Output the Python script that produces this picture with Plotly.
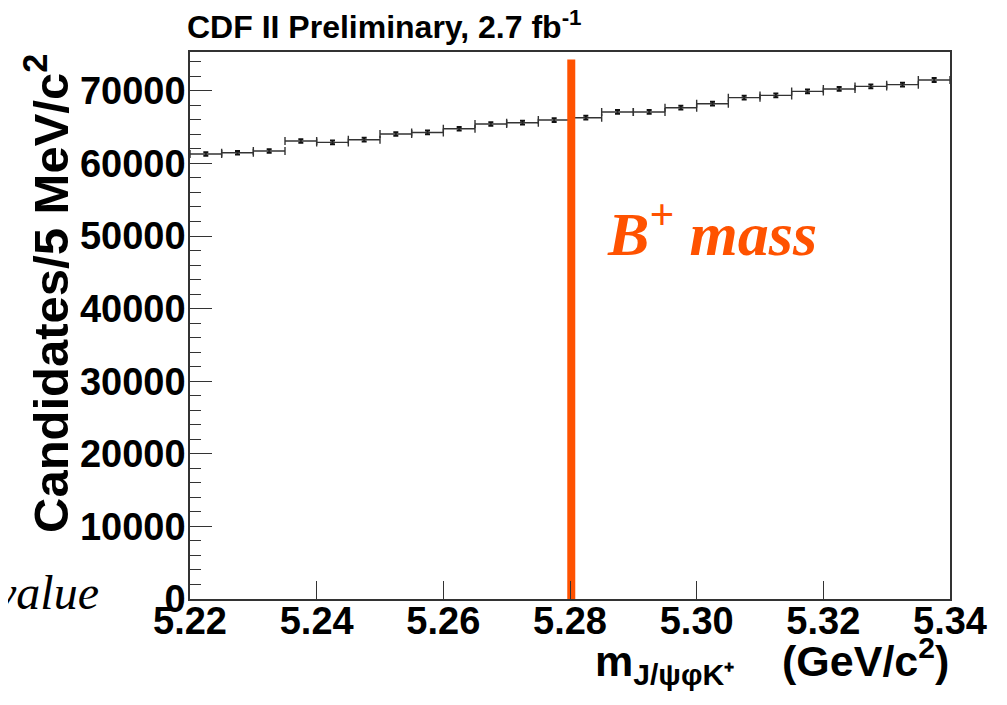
import plotly.graph_objects as go

# ---- data ----
bin_centers = [5.2225, 5.2275, 5.2325, 5.2375, 5.2425, 5.2475, 5.2525, 5.2575,
               5.2625, 5.2675, 5.2725, 5.2775, 5.2825, 5.2875, 5.2925, 5.2975,
               5.3025, 5.3075, 5.3125, 5.3175, 5.3225, 5.3275, 5.3325, 5.3375]
bin_half_width = 0.0025
counts = [61300, 61480, 61710, 63090, 62900, 63270, 64050, 64270,
          64780, 65430, 65610, 65980, 66300, 67090, 67090, 67680,
          68230, 69060, 69370, 69920, 70260, 70610, 70850, 71500]
count_errors = [248, 248, 248, 251, 251, 252, 253, 254,
                255, 256, 256, 257, 257, 259, 259, 260,
                261, 263, 263, 264, 265, 266, 266, 267]
b_mass = 5.2802
b_line_top = 74300
x_ticks = [5.22, 5.24, 5.26, 5.28, 5.30, 5.32, 5.34]
x_range = [5.22, 5.34]
y_range = [0, 75350]

# ---- layout geometry (screen pixels; page body adds an 8px offset) ----
OFF = 8
W, H = 1007 - 2 * OFF, 705 - 2 * OFF
PL, PR, PT, PB = 190, 950, 52, 599          # plot area in screen pixels
L, T = PL - OFF, PT - OFF
R = W - (PR - OFF)
B = H - (PB - OFF)
PW, PH = PR - PL, PB - PT


def px_x(px):
    return (px - PL) / PW


def px_y(py):
    return (PB - py) / PH


AX_COLOR = "#333333"
SANS = "Liberation Sans, Arial, sans-serif"
SERIF = "Liberation Serif, Times New Roman, serif"

fig = go.Figure()

fig.add_trace(go.Scatter(
    x=bin_centers, y=counts, mode="markers",
    marker=dict(size=1, color="#222222"),
    error_x=dict(type="data", array=[bin_half_width] * len(bin_centers),
                 symmetric=True, color="#333333", thickness=1.4, width=4),
    error_y=dict(type="data", array=count_errors, symmetric=True,
                 color="#111111", thickness=2, width=2.5),
    showlegend=False, hoverinfo="skip",
))

fig.add_trace(go.Scatter(
    x=[b_mass, b_mass], y=[0, b_line_top], mode="lines",
    line=dict(color="#FF5200", width=8),
    showlegend=False, hoverinfo="skip",
))

fig.update_layout(
    width=W, height=H,
    margin=dict(l=L, r=R, t=T, b=B, pad=0),
    paper_bgcolor="white", plot_bgcolor="white",
    xaxis=dict(
        range=x_range, tickvals=x_ticks, tickformat=".2f",
        ticks="inside", ticklen=18, tickwidth=1.2, tickcolor=AX_COLOR,
        showline=True, linecolor=AX_COLOR, linewidth=1.5, mirror=True,
        showgrid=False, zeroline=False, ticklabelstandoff=-12,
        tickfont=dict(family=SANS, size=38, color="black", weight="bold"),
    ),
    yaxis=dict(
        range=y_range, dtick=10000, tick0=0, tickformat="d",
        ticks="inside", ticklen=22, tickwidth=1.2, tickcolor=AX_COLOR,
        minor=dict(dtick=2000, ticks="inside", ticklen=11, tickcolor=AX_COLOR, tickwidth=1.2),
        showline=True, linecolor=AX_COLOR, linewidth=1.5, mirror=True,
        showgrid=False, zeroline=False, ticklabelstandoff=-5,
        tickfont=dict(family=SANS, size=38, color="black", weight="bold"),
    ),
    annotations=[
        dict(text="CDF II Preliminary, 2.7 fb<sup>-1</sup>",
             xref="paper", yref="paper", x=px_x(185), y=px_y(25),
             xanchor="left", yanchor="middle", showarrow=False,
             font=dict(family=SANS, size=32, color="black", weight="bold")),
        dict(text="Candidates/5 MeV/c<sup>2</sup>",
             xref="paper", yref="paper", x=px_x(47), y=px_y(294),
             xanchor="center", yanchor="middle", showarrow=False, textangle=-90,
             font=dict(family=SANS, size=49, color="black", weight="bold")),
        dict(text="m<sub>J/ψφK⁺</sub>\u00a0\u00a0\u00a0\u00a0(GeV/c<sup>2</sup>)",
             xref="paper", yref="paper", x=px_x(951), y=px_y(661),
             xanchor="right", yanchor="middle", showarrow=False,
             font=dict(family=SANS, size=43, color="black", weight="bold")),
        dict(text="<b><i>B<sup>+</sup>\u00a0mass</i></b>",
             xref="paper", yref="paper", x=px_x(605), y=px_y(229),
             xanchor="left", yanchor="middle", showarrow=False,
             font=dict(family=SERIF, size=62, color="#FF5200")),
        dict(text="<i>value</i>",
             xref="paper", yref="paper", x=px_x(101), y=px_y(592),
             xanchor="right", yanchor="middle", showarrow=False,
             font=dict(family=SERIF, size=48, color="black")),
    ],
)

fig.write_html("out.html")
